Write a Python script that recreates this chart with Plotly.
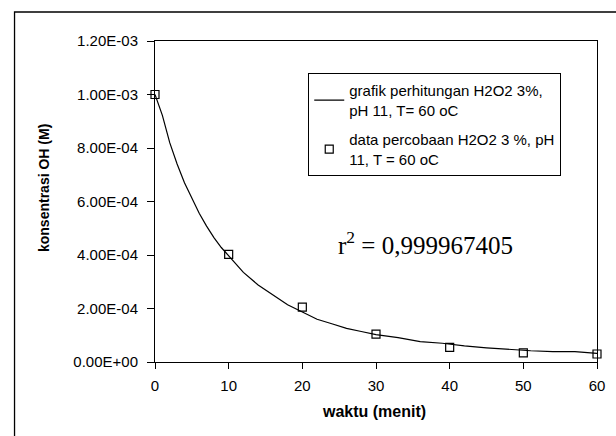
import plotly.graph_objects as go

# Experimental data
t_data = [0, 10, 20, 30, 40, 50, 60]
c_data = [1.0e-3, 4.02e-4, 2.05e-4, 1.04e-4, 5.5e-5, 3.4e-5, 3.0e-5]

# Calculated curve
t_calc = [0, 1, 2, 3, 4, 5, 6, 7, 8, 9, 10, 12, 14, 16, 18, 20, 22, 24, 26, 28,
          30, 33, 36, 39, 42, 45, 48, 51, 54, 57, 60]
c_calc = [10.0e-4, 9.22e-4, 8.2e-4, 7.4e-4, 6.7e-4, 6.12e-4, 5.56e-4, 5.08e-4, 4.65e-4,
          4.28e-4, 3.98e-4, 3.35e-4, 2.88e-4, 2.5e-4, 2.14e-4, 1.87e-4, 1.6e-4, 1.43e-4,
          1.26e-4, 1.14e-4, 1.02e-4, 9.1e-5, 7.6e-5, 7.0e-5, 6.0e-5, 5.3e-5, 4.7e-5,
          4.2e-5, 3.9e-5, 3.9e-5, 3.2e-5]

y_tickvals = [0, 2e-4, 4e-4, 6e-4, 8e-4, 1.0e-3, 1.2e-3]
y_ticktext = ["0.00E+00", "2.00E-04", "4.00E-04", "6.00E-04", "8.00E-04", "1.00E-03", "1.20E-03"]
x_tickvals = [0, 10, 20, 30, 40, 50, 60]

FONT = "Liberation Sans, Arial, sans-serif"

fig = go.Figure()
fig.add_trace(go.Scatter(
    x=t_calc, y=c_calc, mode="lines",
    line=dict(color="black", width=1.2),
    name="grafik perhitungan H2O2 3%,<br>pH 11, T= 60 oC",
    legendgroup="calc",
))
fig.add_trace(go.Scatter(
    x=t_data, y=c_data, mode="markers",
    marker=dict(symbol="square-open", size=8, color="black", line=dict(width=1.2)),
    name="data percobaan H2O2 3 %, pH<br>11, T = 60 oC",
    legendgroup="data",
    cliponaxis=False,
))

fig.update_layout(
    width=616, height=436,
    margin=dict(l=155, r=11, t=41, b=74),
    paper_bgcolor="white", plot_bgcolor="white",
    font=dict(family=FONT, color="black", size=14),
    showlegend=True,
    legend=dict(
        x=0.3467, y=0.9, xanchor="left", yanchor="top",
        bordercolor="black", borderwidth=1, bgcolor="white",
        font=dict(family=FONT, size=15, color="black"),
        tracegroupgap=7,
    ),
    xaxis=dict(
        range=[0, 60], tickvals=x_tickvals, ticks="outside", ticklen=6,
        tickcolor="black", showline=True, linecolor="black", linewidth=1,
        mirror=True, showgrid=False, zeroline=False, ticklabelstandoff=4,
        tickfont=dict(family=FONT, size=15, color="black"),
    ),
    yaxis=dict(
        range=[0, 1.2e-3], tickvals=y_tickvals, ticktext=y_ticktext,
        ticks="outside", ticklen=7, tickcolor="black", showline=True,
        linecolor="black", linewidth=1, mirror=True, showgrid=False,
        zeroline=False, ticklabelstandoff=6,
        tickfont=dict(family=FONT, size=15, color="black"),
    ),
    annotations=[
        dict(text="<b>konsentrasi OH (M)</b>", xref="paper", yref="paper",
             x=-0.2511, y=0.542, xanchor="center", yanchor="middle",
             textangle=-90, showarrow=False,
             font=dict(family=FONT, size=14, color="black")),
        dict(text="<b>waktu (menit)</b>", xref="paper", yref="paper",
             x=0.4956, y=-0.155, xanchor="center", yanchor="middle",
             showarrow=False,
             font=dict(family=FONT, size=16, color="black")),
        dict(text="r<sup>2</sup> = 0,999967405", xref="paper", yref="paper",
             x=0.612, y=0.37, xanchor="center", yanchor="middle", showarrow=False,
             font=dict(family="Liberation Serif, Times New Roman, serif", size=25, color="black")),
    ],
    shapes=[
        dict(type="rect", xref="paper", yref="paper",
             x0=-0.3178, y0=-0.4, x1=1.2, y1=1.0903,
             line=dict(color="black", width=1.3), layer="below"),
    ],
)

fig.write_html("out.html")
